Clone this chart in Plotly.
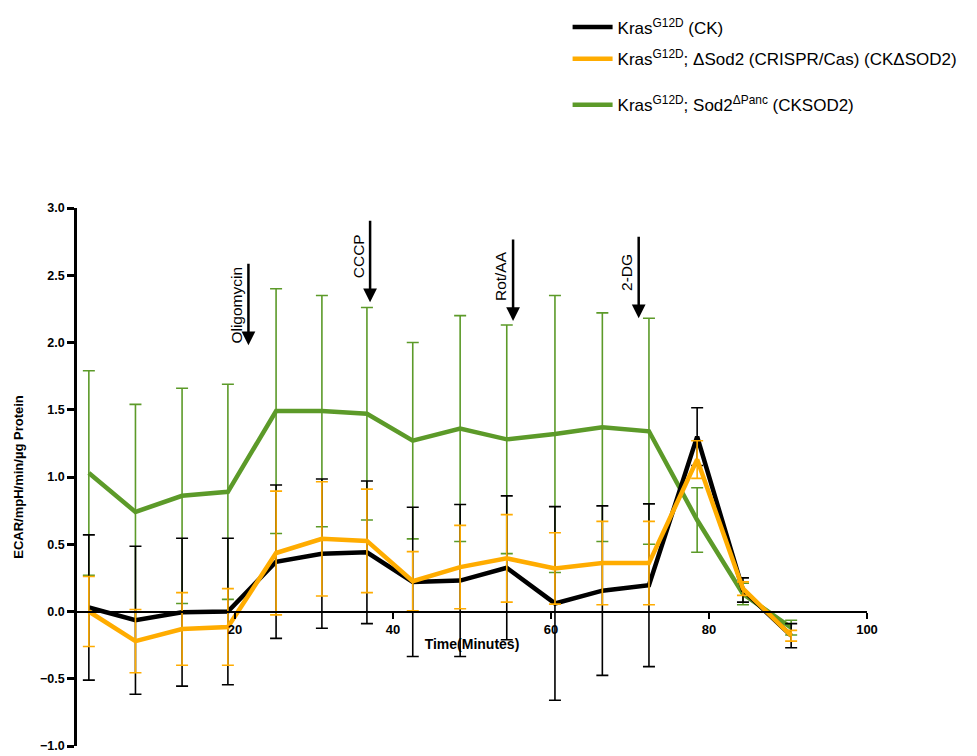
import plotly.graph_objects as go

# ---- data ----
times = [1.5, 7.4, 13.3, 19.1, 25.2, 31.0, 36.7, 42.5, 48.5, 54.4, 60.5, 66.5, 72.4, 78.5, 84.3, 90.4]

ck_mean = [0.03, -0.065, -0.005, 0.0, 0.37, 0.43, 0.44, 0.22, 0.23, 0.325, 0.06, 0.155, 0.195, 1.30, 0.16, -0.18]
ck_sd = [0.54, 0.55, 0.55, 0.545, 0.57, 0.555, 0.53, 0.555, 0.565, 0.535, 0.72, 0.63, 0.605, 0.215, 0.09, 0.09]

cksod_del_mean = [0.0, -0.22, -0.13, -0.115, 0.435, 0.54, 0.525, 0.225, 0.33, 0.395, 0.32, 0.36, 0.36, 1.13, 0.17, -0.18]
cksod_del_sd = [0.26, 0.235, 0.27, 0.285, 0.46, 0.425, 0.385, 0.22, 0.31, 0.325, 0.265, 0.31, 0.31, 0.14, 0.05, 0.04]

cksod2_mean = [1.03, 0.74, 0.86, 0.89, 1.49, 1.49, 1.47, 1.27, 1.36, 1.28, 1.32, 1.37, 1.34, 0.68, 0.13, -0.12]
cksod2_sd = [0.76, 0.80, 0.80, 0.80, 0.91, 0.86, 0.79, 0.73, 0.84, 0.85, 1.03, 0.85, 0.84, 0.24, 0.08, 0.055]

series_names = [
    "Kras<sup>G12D</sup> (CK)",
    "Kras<sup>G12D</sup>; ΔSod2 (CRISPR/Cas) (CKΔSOD2)",
    "Kras<sup>G12D</sup>; Sod2<sup>ΔPanc</sup> (CKSOD2)",
]

treatments = ["Oligomycin", "CCCP", "Rot/AA", "2-DG"]
injection_times = [21.7, 37.1, 55.2, 71.1]
arrow_tips = [1.98, 2.30, 2.16, 2.18]

x_ticks = [20, 40, 60, 80, 100]
y_ticks = [-1.0, -0.5, 0.0, 0.5, 1.0, 1.5, 2.0, 2.5, 3.0]

BLACK = "#000000"
ORANGE = "#FFAC00"
GREEN = "#5C9A29"

fig = go.Figure()

def add_series(mean, sd, name, color, legend):
    fig.add_trace(go.Scatter(
        x=times, y=mean, name=name, mode="lines", showlegend=True,
        line=dict(color=color, width=4.5),
        error_y=dict(type="data", array=sd, visible=True, color=color, thickness=1.6, width=6),
        legend=legend,
    ))

add_series(cksod2_mean, cksod2_sd, series_names[2], GREEN, "legend3")
add_series(ck_mean, ck_sd, series_names[0], BLACK, "legend")
add_series(cksod_del_mean, cksod_del_sd, series_names[1], ORANGE, "legend2")

# arrows + rotated labels
text_shift = [40, 46, 45, 46]
for name, t, tip, sh in zip(treatments, injection_times, arrow_tips, text_shift):
    fig.add_annotation(
        x=t, y=tip, xref="x", yref="y", ax=0, ay=-83, axref="pixel", ayref="pixel",
        showarrow=True, arrowhead=2, arrowsize=1.1, arrowwidth=2.5, arrowcolor="black", text="",
    )
    fig.add_annotation(
        x=t, y=tip, xref="x", yref="y", showarrow=False, text=name, textangle=-90,
        xshift=-12, yshift=sh, font=dict(family="Arial", size=15.5, color="black"),
    )

legend_font = dict(family="Arial", size=17, color="black")

def legend_box(y_paper):
    return dict(x=0.621, y=y_paper, xanchor="left", yanchor="top", bgcolor="rgba(0,0,0,0)",
                font=legend_font, itemwidth=40, borderwidth=0, visible=True)

fig.update_layout(
    width=977, height=756, autosize=False,
    margin=dict(l=77, r=110, t=208, b=10),
    showlegend=True,
    plot_bgcolor="white", paper_bgcolor="white",
    font=dict(family="Arial", color="black"),
    legend=legend_box(1.369),
    legend2=legend_box(1.3100),
    legend3=legend_box(1.2245),
    xaxis=dict(
        range=[0, 100], anchor="free", position=(0 - (-1.0)) / 4.0, automargin=False,
        showline=True, linecolor="black", linewidth=2, showgrid=False, zeroline=False,
        ticks="outside", ticklen=6, tickwidth=2, tickcolor="black",
        tickvals=x_ticks, ticktext=[str(v) for v in x_ticks],
        tickfont=dict(family="Arial", size=13, color="black", weight="bold"),
        title=dict(text="Time(Minutes)", standoff=2,
                   font=dict(family="Arial", size=14, color="black", weight="bold")),
    ),
    yaxis=dict(
        range=[-1, 3], automargin=False, showline=True, linecolor="black", linewidth=2.5,
        showgrid=False, zeroline=False, ticks="outside", ticklen=7, tickwidth=2.5,
        tickcolor="black", tickvals=y_ticks, tickformat=".1f",
        tickfont=dict(family="Arial", size=12.5, color="black", weight="bold"),
        title=dict(text="ECAR/mpH/min/µg Protein", standoff=14,
                   font=dict(family="Arial", size=13, color="black", weight="bold")),
    ),
)

fig.write_html("out.html", config={"displayModeBar": False},
               post_script="document.body.style.margin='0';")
